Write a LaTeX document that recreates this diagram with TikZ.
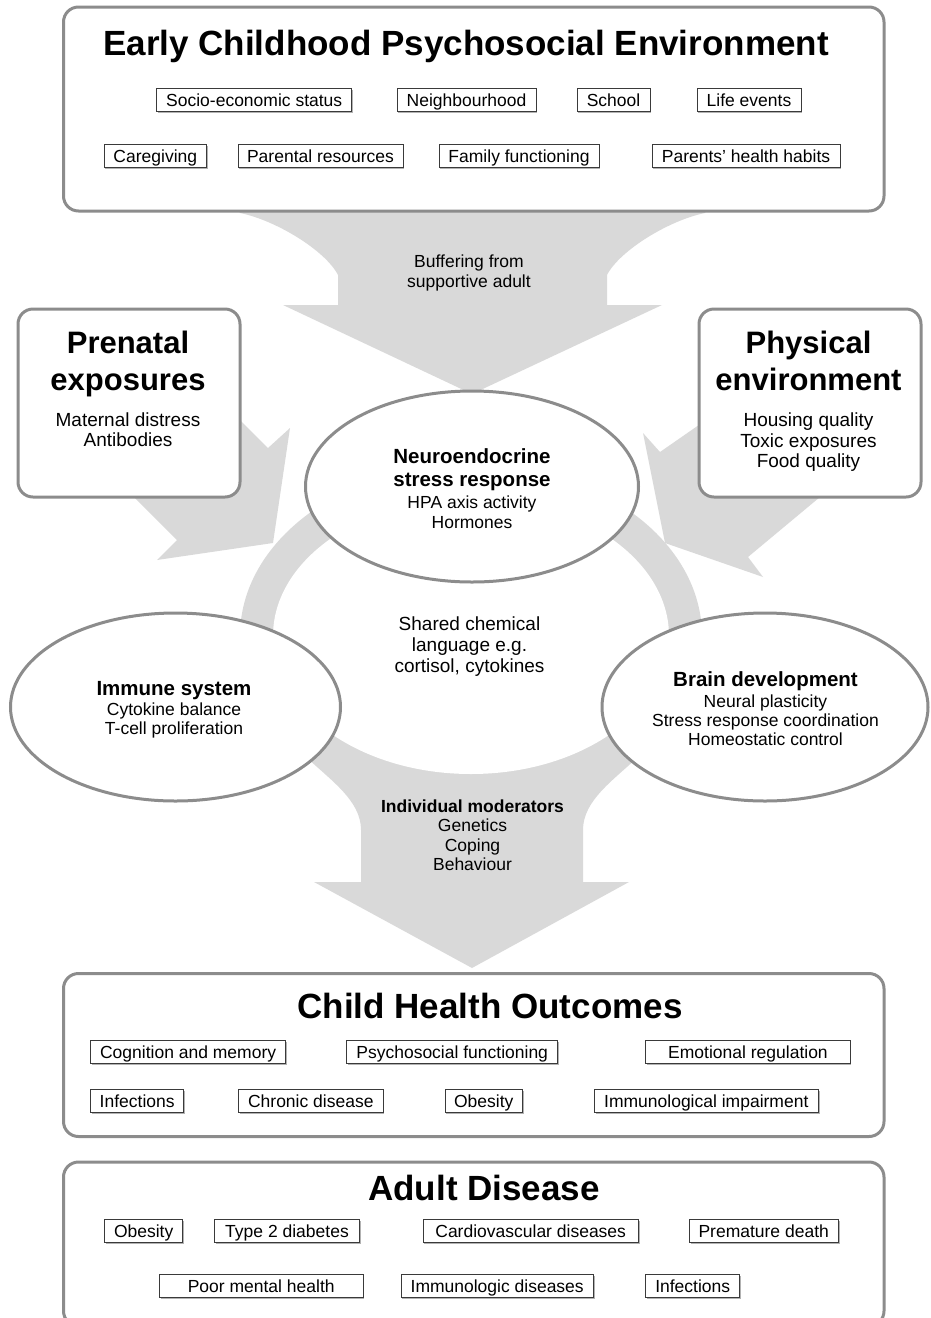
\documentclass[tikz,border=0pt]{standalone}
\usepackage{fontspec}
\setmainfont{Liberation Sans}
\usetikzlibrary{shapes.geometric,shadows}
\definecolor{flow}{HTML}{D9D9D9}
\definecolor{rim}{HTML}{8C8C8C}
\definecolor{tagline}{HTML}{3A3A3A}
\newcommand\setpx[1]{\fontsize{#1}{#1}\selectfont}

\begin{document}
\begin{tikzpicture}[x=1pt,y=-1pt,
  panel/.style={draw=rim, line width=3pt, fill=white, rounded corners=15pt},
  bubble/.style={ellipse, draw=rim, line width=3pt, fill=white, inner sep=0pt},
  tag/.style={draw=tagline, line width=0.9pt, fill=white, minimum height=23pt,
    text height=12.6pt, text depth=0pt, inner xsep=2pt, font=\setpx{17.5},
    general shadow={fill=black!30, shadow xshift=1.3pt, shadow yshift=-1.3pt}},
  head/.style={anchor=base, inner sep=0pt, font=\bfseries\setpx{35}},
  subhead/.style={anchor=base, inner sep=0pt, font=\bfseries\setpx{31}},
  lead/.style={anchor=base, inner sep=0pt, font=\bfseries\setpx{20.5}},
  leadsm/.style={anchor=base, inner sep=0pt, font=\bfseries\setpx{17.5}},
  body/.style={anchor=base, inner sep=0pt, font=\setpx{17.5}},
  bodylg/.style={anchor=base, inner sep=0pt, font=\setpx{19}}]
\useasboundingbox (0,0) rectangle (930,1318);

% ---- grey flow shapes (ring and block arrows) ----
\fill[flow] (471,636) ellipse [x radius=231, y radius=172];
% from the psychosocial environment down to the stress response
\fill[flow] (236,205) -- (240,213) .. controls (275,220) and (325,250) .. (338,275)
  -- (338,305) -- (283,305) -- (472,394) -- (662,305) -- (607,305) -- (607,275)
  .. controls (620,250) and (670,220) .. (705,213) -- (709,205) -- cycle;
% prenatal exposures
\fill[flow] (200,380) -- (268,448) -- (290,428) -- (273,543) -- (157,560)
  -- (177,540) -- (100,463) -- cycle;
% physical environment
\fill[flow] (732,402) -- (660,452) -- (643,433) -- (665,543) -- (763,577)
  -- (748,557) -- (880,447) -- cycle;
% down to child health outcomes
\fill[flow] (300,700) -- (304,755) .. controls (330,780) and (361,800) .. (361,830)
  -- (361,882) -- (314,882) -- (472,968) -- (629,882) -- (583,882) -- (583,830)
  .. controls (583,800) and (614,780) .. (640,755) -- (644,700) -- cycle;
% hollow of the ring
\fill[white] (471,636) ellipse [x radius=198, y radius=138];

% ---- panels ----
\draw[panel] (63.5,7) rectangle (884,211);
\draw[panel] (18,309) rectangle (240,497);
\draw[panel] (699,309) rectangle (921,497);
\draw[panel] (63.5,973.5) rectangle (884,1136.5);
\draw[panel] (63.5,1162) rectangle (884,1326);

% ---- ellipses ----
\node[bubble, minimum width=333pt, minimum height=191pt] (neuro) at (472,486.5) {};
\node[bubble, minimum width=330pt, minimum height=188pt] (immune) at (175.5,707) {};
\node[bubble, minimum width=326pt, minimum height=188pt] (brain) at (765,707) {};

% ---- early childhood psychosocial environment ----
\node[head] (ecpe) at (466,55.5) {Early Childhood Psychosocial Environment};
\node[tag, minimum width=195pt] (ses) at (254.2,99.7) {Socio-economic status};
\node[tag, minimum width=139pt] (nbh) at (466.5,99.7) {Neighbourhood};
\node[tag, minimum width=73pt] (sch) at (613.5,99.7) {School};
\node[tag, minimum width=104pt] (life) at (749,99.7) {Life events};
\node[tag, minimum width=102.6pt] (care) at (155.3,156) {Caregiving};
\node[tag, minimum width=165pt] (parres) at (320.5,156) {Parental resources};
\node[tag, minimum width=160pt] (famfun) at (519,156) {Family functioning};
\node[tag, minimum width=188pt] (habits) at (746,156) {Parents’ health habits};

\node[body] (buf1) at (469,267.5) {Buffering from};
\node[body] (buf2) at (469,287.3) {supportive adult};

% ---- prenatal exposures ----
\node[subhead] (pre1) at (128,353.5) {Prenatal};
\node[subhead] (pre2) at (128,390) {exposures};
\node[bodylg] (pre3) at (128,426.7) {Maternal distress};
\node[bodylg] (pre4) at (128,446.7) {Antibodies};

% ---- physical environment ----
\node[subhead] (phy1) at (808.5,353.5) {Physical};
\node[subhead] (phy2) at (808.5,390) {environment};
\node[bodylg] (phy3) at (808.5,426.7) {Housing quality};
\node[bodylg] (phy4) at (808.5,447.3) {Toxic exposures};
\node[bodylg] (phy5) at (808.5,467.7) {Food quality};

% ---- neuroendocrine stress response ----
\node[lead] (ne1) at (472,463.3) {Neuroendocrine};
\node[lead] (ne2) at (472,486) {stress response};
\node[body] (ne3) at (472,508.3) {HPA axis activity};
\node[body] (ne4) at (472,528.3) {Hormones};

% ---- ring centre ----
\node[bodylg] (sh1) at (469.5,630) {Shared chemical};
\node[bodylg] (sh2) at (469.5,651) {language e.g.};
\node[bodylg] (sh3) at (469.5,672) {cortisol, cytokines};

% ---- immune system ----
\node[lead] (im1) at (174,695) {Immune system};
\node[body] (im2) at (174,715) {Cytokine balance};
\node[body] (im3) at (174,734) {T-cell proliferation};

% ---- brain development ----
\node[lead] (br1) at (765.5,686) {Brain development};
\node[body] (br2) at (765.5,707.7) {Neural plasticity};
\node[body] (br3) at (765.5,726.7) {Stress response coordination};
\node[body] (br4) at (765.5,745.7) {Homeostatic control};

% ---- individual moderators ----
\node[leadsm] (mod1) at (472.5,812.3) {Individual moderators};
\node[body] (mod2) at (472.5,831.7) {Genetics};
\node[body] (mod3) at (472.5,851.7) {Coping};
\node[body] (mod4) at (472.5,870) {Behaviour};

% ---- child health outcomes ----
\node[head] (cho) at (490,1018.3) {Child Health Outcomes};
\node[tag, minimum width=195pt] (cog) at (188.1,1052.3) {Cognition and memory};
\node[tag, minimum width=210.7pt] (psy) at (452.2,1052.3) {Psychosocial functioning};
\node[tag, minimum width=204.2pt] (emo) at (748,1052.3) {Emotional regulation};
\node[tag, minimum width=93.2pt] (inf) at (137.2,1101) {Infections};
\node[tag, minimum width=144.7pt] (chron) at (310.8,1101) {Chronic disease};
\node[tag, minimum width=77.4pt] (obes) at (483.7,1101) {Obesity};
\node[tag, minimum width=223.8pt] (immimp) at (706.3,1101) {Immunological impairment};

% ---- adult disease ----
\node[head] (ad) at (484,1200.7) {Adult Disease};
\node[tag, minimum width=78pt] (aobes) at (143.7,1231) {Obesity};
\node[tag, minimum width=144.6pt] (t2d) at (287,1231) {Type 2 diabetes};
\node[tag, minimum width=215.1pt] (cvd) at (530.7,1231) {Cardiovascular diseases};
\node[tag, minimum width=149pt] (death) at (763.7,1231) {Premature death};
\node[tag, minimum width=203.7pt] (mental) at (261.2,1286) {Poor mental health};
\node[tag, minimum width=192.3pt] (immdis) at (497.2,1286) {Immunologic diseases};
\node[tag, minimum width=93.7pt] (ainf) at (692.7,1286) {Infections};
\end{tikzpicture}
\end{document}
